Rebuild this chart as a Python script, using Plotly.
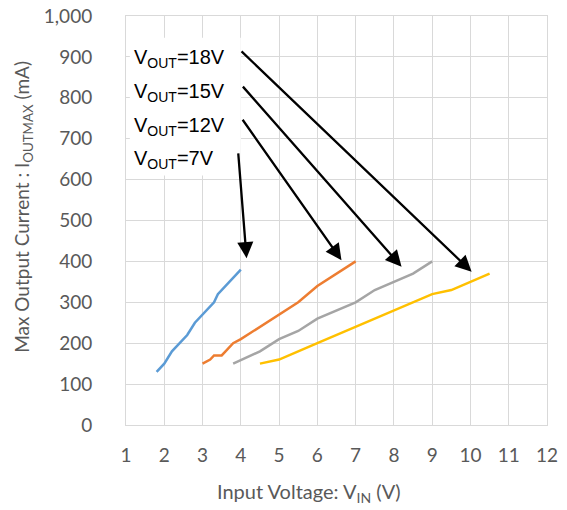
""" max output current vs input voltage for several output voltages """

import plotly.graph_objects as go

# series
vin_7v = [1.8, 2.0, 2.2, 2.6, 2.8, 3.0, 3.3, 3.4, 4.0]
iout_7v = [130, 150, 180, 220, 250, 270, 300, 320, 380]

vin_12v = [3.0, 3.2, 3.3, 3.5, 3.6, 3.8, 4.0, 5.5, 6.0, 7.0]
iout_12v = [150, 160, 170, 170, 180, 200, 210, 300, 340, 400]

vin_15v = [3.8, 4.5, 5.0, 5.5, 6.0, 6.6, 7.0, 7.5, 8.0, 8.5, 9.0]
iout_15v = [150, 180, 210, 230, 260, 283, 300, 330, 350, 370, 400]

vin_18v = [4.5, 5.0, 6.0, 7.0, 8.0, 9.0, 9.5, 10.0, 10.5]
iout_18v = [150, 160, 200, 240, 280, 320, 330, 350, 370]

x_ticks = list(range(1, 13))
y_ticks = list(range(0, 1001, 100))

# label text, label anchor (x, y), arrow start and arrow tip
labels = ["V<sub>OUT</sub>=18V", "V<sub>OUT</sub>=15V", "V<sub>OUT</sub>=12V", "V<sub>OUT</sub>=7V"]
label_x = [1.15, 1.15, 1.15, 1.15]
label_y = [897, 814, 729, 648]
arrow_from_x = [3.98, 4.02, 4.02, 3.93]
arrow_from_y = [917, 831, 750, 668]
arrow_to_x = [10.03, 8.2, 6.63, 4.15]
arrow_to_y = [375, 387, 403, 408]

colors = ["#5B9BD5", "#ED7D31", "#A5A5A5", "#FFC000"]
grey = "#595959"
font = "Lato"

fig = go.Figure()
for xs, ys, c in zip(
    [vin_7v, vin_12v, vin_15v, vin_18v],
    [iout_7v, iout_12v, iout_15v, iout_18v],
    colors,
):
    fig.add_trace(go.Scatter(x=xs, y=ys, mode="lines", line=dict(color=c, width=2.5), showlegend=False))

# white box behind the labels
fig.add_shape(type="rect", xref="x", yref="y", x0=1.1, x1=4.0, y0=610, y1=947,
              fillcolor="white", line=dict(width=0), layer="above")

for txt, lx, ly in zip(labels, label_x, label_y):
    fig.add_annotation(x=lx, y=ly, xref="x", yref="y", text=txt, showarrow=False,
                       xanchor="left", yanchor="middle", font=dict(family="Liberation Sans", size=20, color="black"))

for fx, fy, tx, ty in zip(arrow_from_x, arrow_from_y, arrow_to_x, arrow_to_y):
    fig.add_annotation(x=tx, y=ty, ax=fx, ay=fy, xref="x", yref="y", axref="x", ayref="y",
                       text="", showarrow=True, arrowhead=2, arrowsize=1.4, arrowwidth=2.3,
                       arrowcolor="black")

# axis titles as annotations so they sit where the reference has them
fig.add_annotation(x=0.435, y=-0.165, xref="paper", yref="paper", text="Input Voltage: V<sub>IN</sub> (V)",
                   showarrow=False, xanchor="center", yanchor="middle", font=dict(family=font, size=20, color=grey))
fig.add_annotation(x=-0.245, y=0.533, xref="paper", yref="paper",
                   text="Max Output Current : I<sub>OUTMAX</sub> (mA)", textangle=-90,
                   showarrow=False, xanchor="center", yanchor="middle", font=dict(family=font, size=19, color=grey))

fig.update_xaxes(range=[1, 12], tickvals=x_ticks, showgrid=True, gridcolor="#D9D9D9", gridwidth=1,
                 zeroline=False, showline=True, linecolor="#D9D9D9", mirror=True, ticks="",
                 automargin=False, ticklabelstandoff=13, tickfont=dict(family=font, size=19, color=grey))
fig.update_yaxes(range=[0, 1000], tickvals=y_ticks, tickformat=",d", showgrid=True, gridcolor="#D9D9D9",
                 gridwidth=1, zeroline=False, showline=True, linecolor="#D9D9D9", mirror=True, ticks="",
                 automargin=False, ticklabelstandoff=29, tickfont=dict(family=font, size=19, color=grey))

fig.update_layout(width=567, height=510, margin=dict(l=126, r=20, t=16, b=85),
                  plot_bgcolor="white", paper_bgcolor="white")

# page body has a default 8px margin, drop it so the figure fills the window
fig.write_html("out.html", config={"displayModeBar": False},
               post_script="document.body.style.margin='0';")
